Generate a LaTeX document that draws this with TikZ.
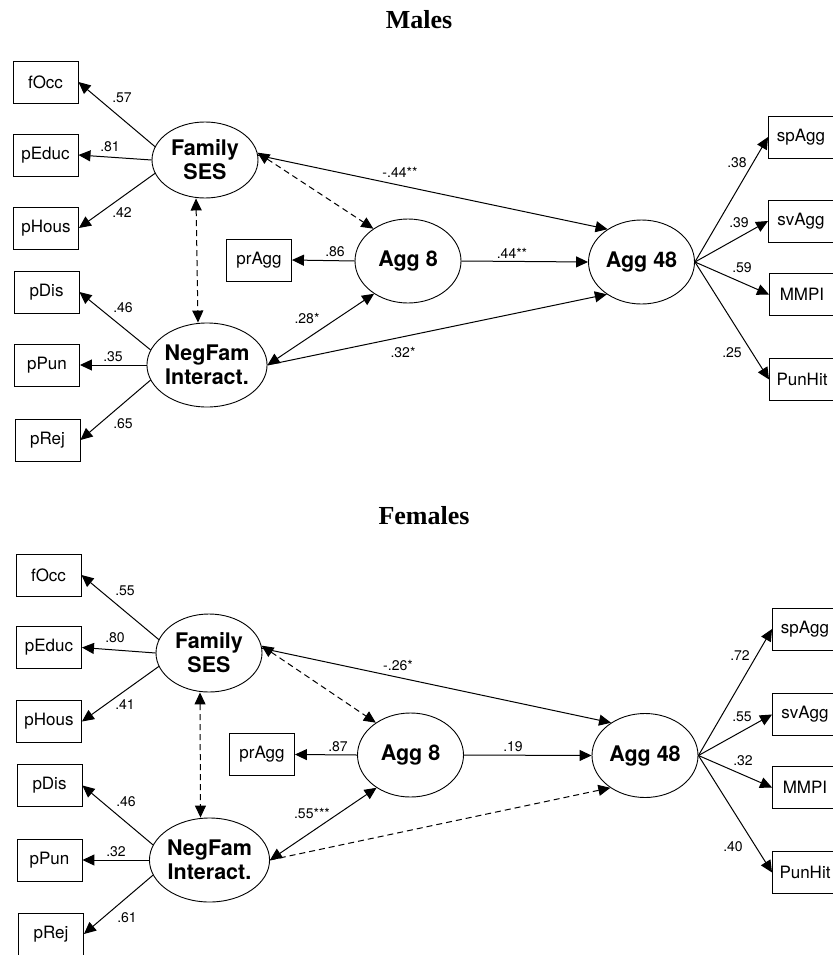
\documentclass[tikz,border=0pt]{standalone}
\usepackage{fontspec}
\setmainfont{TeX Gyre Heros}
\newfontfamily\titlefont{Liberation Serif}
\usetikzlibrary{arrows.meta,shapes.geometric}

\tikzset{
  obs/.style={draw,rectangle,line width=0.9pt,minimum width=65pt,minimum height=42pt,inner sep=0pt,font=\fontsize{17}{19}\selectfont},
  lat/.style={draw,ellipse,line width=0.9pt,minimum width=106pt,minimum height=84pt,inner sep=0pt,align=center,font=\fontsize{21.5}{24}\selectfont\bfseries},
  coef/.style={inner sep=0pt,font=\fontsize{14}{16}\selectfont},
  ttl/.style={font=\fontsize{26}{28}\selectfont\titlefont\bfseries},
  lnk/.style={line width=1pt,-{Triangle[length=12pt,width=11pt]}},
  twoway/.style={line width=1pt,{Triangle[length=12pt,width=11pt]}-{Triangle[length=12pt,width=11pt]}},
  dsh/.style={dash pattern=on 6pt off 4pt}
}

\begin{document}
\begin{tikzpicture}[x=1pt,y=-1pt]
\useasboundingbox (0,0) rectangle (832,955);

% males
\node[ttl] (mtitle) at (419,20) {Males};
\node[obs] (mfocc) at (45.5,82) {fOcc};
\node[obs] (mpeduc) at (45.5,155) {pEduc};
\node[obs] (mphous) at (46,228) {pHous};
\node[obs] (mpdis) at (46.5,292) {pDis};
\node[obs] (mppun) at (47,365) {pPun};
\node[obs] (mprej) at (47.5,440) {pRej};
\node[lat,minimum height=76pt] (mses) at (205,160) {Family\\SES};
\node[lat] (mneg) at (207,365) {NegFam\\Interact.};
\node[obs] (mpragg) at (259,260) {prAgg};
\node[lat] (magg8) at (408,261) {Agg 8};
\node[lat] (magg48) at (641.5,262) {Agg 48};
\node[obs] (mspagg) at (801,137) {spAgg};
\node[obs] (msvagg) at (801,221) {svAgg};
\node[obs] (mmmpi) at (802,294.5) {MMPI};
\node[obs] (mpunhit) at (802,379.5) {PunHit};

\draw[lnk] (mses.165) -- (mfocc.east);
\draw[lnk] (mses.west) -- (mpeduc.east);
\draw[lnk] (mses.195) -- (mphous.east);
\draw[lnk] (mneg.165) -- (mpdis.east);
\draw[lnk] (mneg.west) -- (mppun.east);
\draw[lnk] (mneg.195) -- (mprej.east);
\draw[twoway,dsh] ([xshift=-9pt]mses.south) -- ([xshift=-9pt]mneg.north);
\draw[twoway,dsh] (mses.8) -- (magg8.137);
\draw[twoway] (magg8.224) -- (mneg.east);
\draw[lnk] (magg8.west) -- (mpragg.east);
\draw[lnk] (mses.5) -- (magg48.136);
\draw[lnk] (magg8.east) -- (magg48.west);
\draw[lnk] (mneg.east) -- (magg48.223);
\draw[lnk] (magg48.east) -- (mspagg.west);
\draw[lnk] (magg48.east) -- (msvagg.west);
\draw[lnk] (magg48.east) -- (mmmpi.west);
\draw[lnk] (magg48.east) -- (mpunhit.west);

\node[coef] (mc1) at (122,98) {.57};
\node[coef] (mc2) at (110,147) {.81};
\node[coef] (mc3) at (122,213) {.42};
\node[coef] (mc4) at (123,308) {.46};
\node[coef] (mc5) at (113,357) {.35};
\node[coef] (mc6) at (123,424) {.65};
\node[coef] (mc7) at (335,252) {.86};
\node[coef] (mc8) at (307,318) {.28*};
\node[coef] (mc9) at (400,172) {-.44**};
\node[coef] (mc10) at (512,253) {.44**};
\node[coef] (mc11) at (403,352) {.32*};
\node[coef] (mc12) at (737,163) {.38};
\node[coef] (mc13) at (739,223) {.39};
\node[coef] (mc14) at (742,268) {.59};
\node[coef] (mc15) at (732,353) {.25};

% females
\node[ttl] (ftitle) at (424,516) {Females};
\node[obs] (ffocc) at (48.5,575) {fOcc};
\node[obs] (fpeduc) at (49,647.5) {pEduc};
\node[obs] (fphous) at (49,721.5) {pHous};
\node[obs] (fpdis) at (49.5,785.5) {pDis};
\node[obs] (fppun) at (49.5,860) {pPun};
\node[obs] (fprej) at (51,934) {pRej};
\node[lat,minimum height=78pt] (fses) at (209,653) {Family\\SES};
\node[lat] (fneg) at (209.5,860) {NegFam\\Interact.};
\node[obs] (fpragg) at (262,754.5) {prAgg};
\node[lat] (fagg8) at (410.5,755) {Agg 8};
\node[lat] (fagg48) at (645,755.5) {Agg 48};
\node[obs] (fspagg) at (805,629) {spAgg};
\node[obs] (fsvagg) at (805,714.5) {svAgg};
\node[obs] (fmmpi) at (805,787.5) {MMPI};
\node[obs] (fpunhit) at (805,872.5) {PunHit};

\draw[lnk] (fses.165) -- (ffocc.east);
\draw[lnk] (fses.west) -- (fpeduc.east);
\draw[lnk] (fses.195) -- (fphous.east);
\draw[lnk] (fneg.165) -- (fpdis.east);
\draw[lnk] (fneg.west) -- (fppun.east);
\draw[lnk] (fneg.195) -- (fprej.east);
\draw[twoway,dsh] ([xshift=-9pt]fses.south) -- ([xshift=-9pt]fneg.north);
\draw[twoway,dsh] (fses.8) -- (fagg8.137);
\draw[twoway] (fagg8.224) -- (fneg.east);
\draw[lnk] (fagg8.west) -- (fpragg.east);
\draw[lnk] (fses.5) -- (fagg48.136);
\draw[lnk] (fagg8.east) -- (fagg48.west);
\draw[lnk,dsh] (fneg.east) -- (fagg48.223);
\draw[lnk] (fagg48.east) -- (fspagg.west);
\draw[lnk] (fagg48.east) -- (fsvagg.west);
\draw[lnk] (fagg48.east) -- (fmmpi.west);
\draw[lnk] (fagg48.east) -- (fpunhit.west);

\node[coef] (fc1) at (125,591) {.55};
\node[coef] (fc2) at (115,638) {.80};
\node[coef] (fc3) at (125,705) {.41};
\node[coef] (fc4) at (126,802) {.46};
\node[coef] (fc5) at (116,852) {.32};
\node[coef] (fc6) at (127,918) {.61};
\node[coef] (fc7) at (338,747) {.87};
\node[coef] (fc8) at (312,813) {.55***};
\node[coef] (fc9) at (398,665) {-.26*};
\node[coef] (fc10) at (513,747) {.19};
\node[coef] (fc11) at (740,656) {.72};
\node[coef] (fc12) at (742,717) {.55};
\node[coef] (fc13) at (743,761) {.32};
\node[coef] (fc14) at (733,847) {.40};
\end{tikzpicture}
\end{document}
